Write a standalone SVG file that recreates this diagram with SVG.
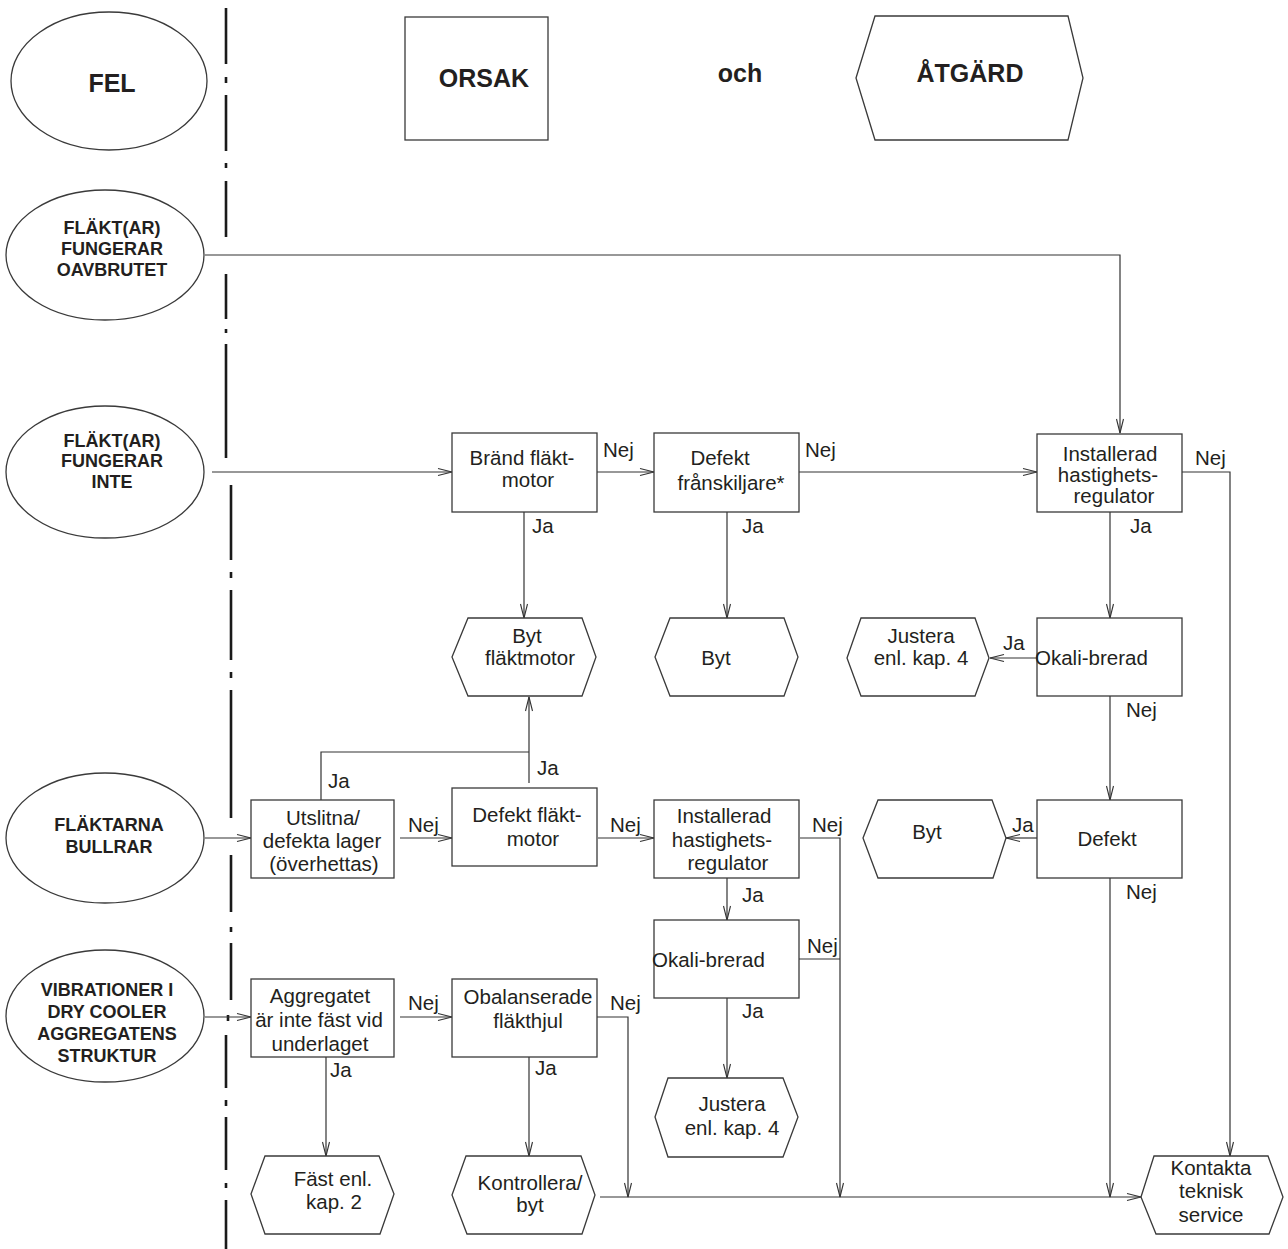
<svg xmlns="http://www.w3.org/2000/svg" width="1288" height="1249" viewBox="0 0 1288 1249">
  <style>
    .shape { fill: #fff; stroke: #3a3a3a; stroke-width: 1.3; }
    .link { fill: none; stroke: #333; stroke-width: 1.2; }
    .axis { stroke: #1a1a1a; stroke-width: 2.6; }
    .t { font-family: "Liberation Sans", Arial, sans-serif; font-size: 20.5px; fill: #231f20; }
    .h { font-family: "Liberation Sans", Arial, sans-serif; font-size: 25px; font-weight: bold; fill: #231f20; text-anchor: middle; }
    .e { font-family: "Liberation Sans", Arial, sans-serif; font-size: 18px; font-weight: bold; fill: #231f20; text-anchor: middle; }
    .c { text-anchor: middle; }
  </style>
  <defs>
    <marker id="arr" markerUnits="userSpaceOnUse" markerWidth="20" markerHeight="12" viewBox="-16 -6 18 12" refX="0" refY="0" orient="auto">
      <path d="M-14,-3.5 L0,0 L-14,3.5" fill="none" stroke="#333" stroke-width="1.1"/>
    </marker>
  </defs>
  <rect width="1288" height="1249" fill="#fff"/>

  <!-- dash-dot separator -->
  <g id="separator" class="axis">
    <line x1="226" y1="8" x2="226" y2="64"/>
    <line x1="226" y1="77" x2="226" y2="83"/>
    <line x1="226" y1="95" x2="226" y2="151"/>
    <line x1="226" y1="163" x2="226" y2="168"/>
    <line x1="226" y1="181" x2="226" y2="237"/>
    <line x1="226" y1="274" x2="226" y2="319"/>
    <line x1="226" y1="329" x2="226" y2="333"/>
    <line x1="226" y1="344" x2="226" y2="458"/>
    <line x1="231" y1="485" x2="231" y2="560"/>
    <line x1="231" y1="572" x2="231" y2="578"/>
    <line x1="231" y1="590" x2="231" y2="660"/>
    <line x1="231" y1="672" x2="231" y2="678"/>
    <line x1="231" y1="690" x2="231" y2="818"/>
    <line x1="231" y1="855" x2="231" y2="912"/>
    <line x1="231" y1="927" x2="231" y2="932"/>
    <line x1="231" y1="943" x2="231" y2="1000"/>
    <line x1="228" y1="1015" x2="228" y2="1021"/>
    <line x1="226" y1="1035" x2="226" y2="1088"/>
    <line x1="226" y1="1100" x2="226" y2="1106"/>
    <line x1="226" y1="1117" x2="226" y2="1170"/>
    <line x1="226" y1="1183" x2="226" y2="1188"/>
    <line x1="226" y1="1200" x2="226" y2="1249"/>
  </g>

  <!-- legend -->
  <g id="legend-fel">
    <ellipse class="shape" cx="109" cy="81" rx="98" ry="69"/>
    <text class="h" x="112" y="92">FEL</text>
  </g>
  <g id="legend-orsak">
    <rect class="shape" x="405" y="17" width="143" height="123"/>
    <text class="h" x="484" y="87">ORSAK</text>
  </g>
  <text class="h" x="740" y="82">och</text>
  <g id="legend-atgard">
    <polygon class="shape" points="856,78 875,16 1068,16 1083,78 1068,140 875,140"/>
    <text class="h" x="970" y="82">ÅTGÄRD</text>
  </g>

  <!-- fault ellipses -->
  <g id="fault-oavbrutet">
    <ellipse class="shape" cx="105" cy="255" rx="99" ry="65"/>
    <text class="e" x="112" y="234">FLÄKT(AR)</text>
    <text class="e" x="112" y="255">FUNGERAR</text>
    <text class="e" x="112" y="276">OAVBRUTET</text>
  </g>
  <g id="fault-inte">
    <ellipse class="shape" cx="105" cy="472" rx="99" ry="66"/>
    <text class="e" x="112" y="447">FLÄKT(AR)</text>
    <text class="e" x="112" y="467">FUNGERAR</text>
    <text class="e" x="112" y="488">INTE</text>
  </g>
  <g id="fault-bullrar">
    <ellipse class="shape" cx="105" cy="838" rx="99" ry="65"/>
    <text class="e" x="109" y="831">FLÄKTARNA</text>
    <text class="e" x="109" y="853">BULLRAR</text>
  </g>
  <g id="fault-vibrationer">
    <ellipse class="shape" cx="105" cy="1016" rx="99" ry="66"/>
    <text class="e" x="107" y="996">VIBRATIONER I</text>
    <text class="e" x="107" y="1018">DRY COOLER</text>
    <text class="e" x="107" y="1040">AGGREGATENS</text>
    <text class="e" x="107" y="1062">STRUKTUR</text>
  </g>

  <!-- connectors -->
  <g id="connectors" class="link">
    <path d="M205,255 H1120 V433" marker-end="url(#arr)"/>
    <path d="M212,472 H452" marker-end="url(#arr)"/>
    <path d="M597,472 H654" marker-end="url(#arr)"/>
    <path d="M799,472 H1037" marker-end="url(#arr)"/>
    <path d="M1182,472 H1230 V1156" marker-end="url(#arr)"/>
    <path d="M524,512 V618" marker-end="url(#arr)"/>
    <path d="M727,512 V618" marker-end="url(#arr)"/>
    <path d="M1110,512 V618" marker-end="url(#arr)"/>
    <path d="M1037,658 H990" marker-end="url(#arr)"/>
    <path d="M1110,696 V800" marker-end="url(#arr)"/>
    <path d="M1037,838 H1006" marker-end="url(#arr)"/>
    <path d="M1110,878 V1197" marker-end="url(#arr)"/>
    <path d="M205,838 H251" marker-end="url(#arr)"/>
    <path d="M321,800 V752 H529"/>
    <path d="M529,783 V697" marker-end="url(#arr)"/>
    <path d="M400,838 H452" marker-end="url(#arr)"/>
    <path d="M598,838 H654" marker-end="url(#arr)"/>
    <path d="M800,838 H840 V1197" marker-end="url(#arr)"/>
    <path d="M727,878 V920" marker-end="url(#arr)"/>
    <path d="M799,959 H840"/>
    <path d="M727,998 V1078" marker-end="url(#arr)"/>
    <path d="M205,1017 H251" marker-end="url(#arr)"/>
    <path d="M400,1017 H452" marker-end="url(#arr)"/>
    <path d="M597,1017 H628 V1197" marker-end="url(#arr)"/>
    <path d="M326,1057 V1156" marker-end="url(#arr)"/>
    <path d="M529,1057 V1156" marker-end="url(#arr)"/>
    <path d="M600,1197 H1141" marker-end="url(#arr)"/>
  </g>

  <!-- connector labels -->
  <g id="labels" class="t">
    <text x="603" y="457">Nej</text>
    <text x="805" y="457">Nej</text>
    <text x="1195" y="465">Nej</text>
    <text x="532" y="533">Ja</text>
    <text x="742" y="533">Ja</text>
    <text x="1130" y="533">Ja</text>
    <text x="1003" y="650">Ja</text>
    <text x="1126" y="717">Nej</text>
    <text x="1012" y="832">Ja</text>
    <text x="1126" y="899">Nej</text>
    <text x="328" y="788">Ja</text>
    <text x="537" y="775">Ja</text>
    <text x="408" y="832">Nej</text>
    <text x="610" y="832">Nej</text>
    <text x="812" y="832">Nej</text>
    <text x="742" y="902">Ja</text>
    <text x="807" y="953">Nej</text>
    <text x="742" y="1018">Ja</text>
    <text x="408" y="1010">Nej</text>
    <text x="610" y="1010">Nej</text>
    <text x="330" y="1077">Ja</text>
    <text x="535" y="1075">Ja</text>
  </g>

  <!-- cause boxes -->
  <g id="brand-flaktmotor">
    <rect class="shape" x="452" y="433" width="145" height="79"/>
    <text class="t c" x="522" y="465">Bränd fläkt-</text>
    <text class="t c" x="528" y="487">motor</text>
  </g>
  <g id="defekt-franskiljare">
    <rect class="shape" x="654" y="433" width="145" height="79"/>
    <text class="t c" x="720" y="465">Defekt</text>
    <text class="t c" x="731" y="490">frånskiljare*</text>
  </g>
  <g id="installerad-1">
    <rect class="shape" x="1037" y="434" width="145" height="78"/>
    <text class="t c" x="1110" y="461">Installerad</text>
    <text class="t c" x="1108" y="482">hastighets-</text>
    <text class="t c" x="1114" y="503">regulator</text>
  </g>
  <g id="okalibrerad-1">
    <rect class="shape" x="1037" y="618" width="145" height="78"/>
    <text class="t" x="1035" y="665">Okali-brerad</text>
  </g>
  <g id="defekt-regulator">
    <rect class="shape" x="1037" y="800" width="145" height="78"/>
    <text class="t c" x="1107" y="846">Defekt</text>
  </g>
  <g id="utslitna-lager">
    <rect class="shape" x="251" y="800" width="143" height="78"/>
    <text class="t c" x="323" y="825">Utslitna/</text>
    <text class="t c" x="322" y="848">defekta lager</text>
    <text class="t c" x="324" y="871">(överhettas)</text>
  </g>
  <g id="defekt-flaktmotor">
    <rect class="shape" x="452" y="788" width="145" height="78"/>
    <text class="t c" x="527" y="822">Defekt fläkt-</text>
    <text class="t c" x="533" y="846">motor</text>
  </g>
  <g id="installerad-2">
    <rect class="shape" x="654" y="800" width="145" height="78"/>
    <text class="t c" x="724" y="823">Installerad</text>
    <text class="t c" x="722" y="847">hastighets-</text>
    <text class="t c" x="728" y="870">regulator</text>
  </g>
  <g id="okalibrerad-2">
    <rect class="shape" x="654" y="920" width="145" height="78"/>
    <text class="t" x="652" y="967">Okali-brerad</text>
  </g>
  <g id="aggregatet">
    <rect class="shape" x="251" y="979" width="143" height="78"/>
    <text class="t c" x="320" y="1003">Aggregatet</text>
    <text class="t c" x="319" y="1027">är inte fäst vid</text>
    <text class="t c" x="320" y="1051">underlaget</text>
  </g>
  <g id="obalanserade">
    <rect class="shape" x="452" y="979" width="145" height="78"/>
    <text class="t c" x="528" y="1004">Obalanserade</text>
    <text class="t c" x="528" y="1028">fläkthjul</text>
  </g>

  <!-- action hexagons -->
  <g id="byt-flaktmotor">
    <polygon class="shape" points="452,657 468,618 582,618 596,657 582,696 468,696"/>
    <text class="t c" x="527" y="643">Byt</text>
    <text class="t c" x="530" y="665">fläktmotor</text>
  </g>
  <g id="byt-franskiljare">
    <polygon class="shape" points="655,657 670,618 784,618 798,657 784,696 670,696"/>
    <text class="t c" x="716" y="665">Byt</text>
  </g>
  <g id="justera-1">
    <polygon class="shape" points="847,658 861,618 975,618 989,658 975,696 861,696"/>
    <text class="t c" x="921" y="643">Justera</text>
    <text class="t c" x="921" y="665">enl. kap. 4</text>
  </g>
  <g id="byt-regulator">
    <polygon class="shape" points="863,838 878,800 992,800 1006,838 993,878 878,878"/>
    <text class="t c" x="927" y="839">Byt</text>
  </g>
  <g id="justera-2">
    <polygon class="shape" points="655,1117 668,1078 783,1078 798,1117 783,1157 668,1157"/>
    <text class="t c" x="732" y="1111">Justera</text>
    <text class="t c" x="732" y="1135">enl. kap. 4</text>
  </g>
  <g id="fast">
    <polygon class="shape" points="251,1194 265,1156 379,1156 394,1194 380,1234 265,1234"/>
    <text class="t c" x="333" y="1186">Fäst enl.</text>
    <text class="t c" x="334" y="1209">kap. 2</text>
  </g>
  <g id="kontrollera">
    <polygon class="shape" points="452,1195 466,1156 581,1156 595,1195 582,1234 467,1234"/>
    <text class="t c" x="530" y="1190">Kontrollera/</text>
    <text class="t c" x="530" y="1212">byt</text>
  </g>
  <g id="kontakta">
    <polygon class="shape" points="1141,1197 1154,1156 1268,1156 1283,1197 1269,1234 1156,1234"/>
    <text class="t c" x="1211" y="1175">Kontakta</text>
    <text class="t c" x="1211" y="1198">teknisk</text>
    <text class="t c" x="1211" y="1222">service</text>
  </g>
</svg>
